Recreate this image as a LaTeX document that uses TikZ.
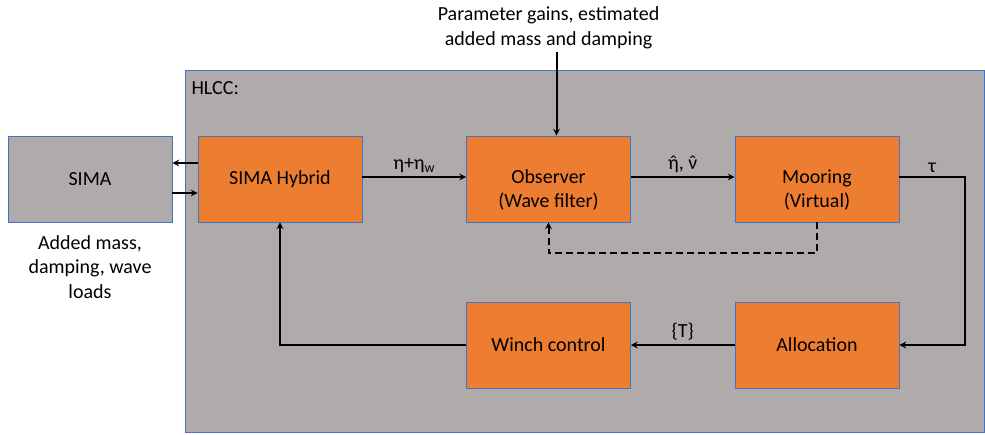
\documentclass[tikz,border=0pt]{standalone}
\usepackage{fontspec}
\setmainfont{Carlito}
\usetikzlibrary{calc}

\definecolor{hlccgray}{RGB}{175,171,171}
\definecolor{blockorange}{RGB}{237,125,49}
\definecolor{edgeblue}{RGB}{68,114,196}

\newcommand{\hatted}[1]{\accent"02C6 #1}

\tikzset{
  block/.style={draw=edgeblue, line width=0.8pt, fill=blockorange, minimum width=164pt, minimum height=86pt, align=center},
  simabox/.style={block, fill=hlccgray},
  lowtext/.style={align=center, yshift=-11pt},
  flow/.style={line width=2pt, -stealth},
  feedback/.style={flow, dashed, dash pattern=on 7pt off 4pt}
}

\begin{document}
\begin{tikzpicture}[x=1pt, y=-1pt, font=\fontsize{20}{24.5}\selectfont]
\useasboundingbox (0,0) rectangle (985,434);

% HLCC frame
\draw [draw=edgeblue, line width=0.8pt, fill=hlccgray] (185,70) rectangle (984,432);
\node [anchor=west] (hlcc) at (188,88) {HLCC:};

\node [simabox] (sima) at (90,179) {SIMA};
\node [block] (hybrid) at (280,179) {SIMA Hybrid};
\node [block, label={[lowtext]center:{Observer\\(Wave filter)}}] (observer) at (548.5,179) {};
\node [block, label={[lowtext]center:{Mooring\\(Virtual)}}] (mooring) at (817,179) {};
\node [block] (allocation) at (817,345) {Allocation};
\node [block] (winch) at (548.5,345) {Winch control};

\node [align=center] (params) at (548.5,28) {Parameter gains, estimated\\added mass and damping};
\node [align=center] (loads) at (90,267) {Added mass,\\damping, wave\\loads};

% signals
\draw [flow] ([yshift=16pt]hybrid.west) -- ([yshift=16pt]sima.east);
\draw [flow] ([yshift=-14pt]sima.east) -- ([yshift=-14pt]hybrid.west);
\draw [flow] ([yshift=2pt]hybrid.east) -- ([yshift=2pt]observer.west) node [midway, above] {η+η\textsubscript{w}};
\draw [flow] ([yshift=2pt]observer.east) -- ([yshift=2pt]mooring.west) node [midway, above] {\hatted{η}, \hatted{ν}};
\draw [flow] ([yshift=2pt]mooring.east) -- (965,177) node [midway, above] {τ} |- (allocation.east);
\draw [flow] (allocation) -- (winch) node [midway, above] {\{T\}};
\draw [flow] (winch.west) -| (hybrid.south);
\draw [flow] ([xshift=8pt]params.south) -- ([xshift=8pt]observer.north);

%\draw [->] (mooring.south) -- (observer.south);
\draw [feedback] (mooring.south) -- ++(0,31) -| (observer.south);
\end{tikzpicture}
\end{document}
